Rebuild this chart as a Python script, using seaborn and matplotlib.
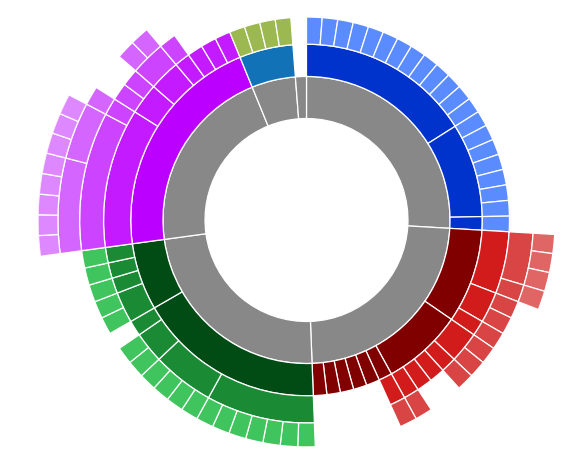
import numpy as np
import matplotlib
matplotlib.use("Agg")
import matplotlib.pyplot as plt
import seaborn as sns

sns.set_theme(style="white")

# Hierarchy: a 1 is a leaf of one unit, a list holds the children of a node.
blue_tree = [
    [1, 1, 1, 1, 1, 1, 1, 1, 1, 1, 1, 1, 1],
    [1, 1, 1, 1, 1, 1, 1],
    [1],
]
red_tree = [
    [[[1, 1, 1], [1]], [1, 1], [1]],
    [[1, 1], [1], 1, 1, [1]],
    [[1]],
    1, 1, 1, 1, 1,
]
green_tree = [
    [[1, 1, 1, 1, 1, 1, 1], [1, 1, 1, 1], [1, 1], 1],
    [[1, 1], [1], [1], [1]],
]
magenta_tree = [
    [
        [[[1, 1, 1, 1, 1], [1, 1, 1]], [1]],
        [1, 1],
        [[1, 1]],
        [1],
        1, 1, 1,
    ],
]
teal_tree = [[1, 1, 1, 1]]
gray_leaf = 1

groups = [blue_tree, red_tree, green_tree, magenta_tree, teal_tree, gray_leaf]

# colours by depth (depth 1 is always grey)
group_palettes = [
    ["#0033cc", "#5b8cff"],
    ["#800000", "#d21c1c", "#d94444", "#e06666"],
    ["#004c14", "#1a8a35", "#40c45e"],
    ["#bb00ff", "#c41aff", "#cc44ff", "#d466ff", "#dd88ff"],
    ["#1172b8", "#9cb850"],
    [],
]
ring_gray = "#888888"
levels = 7          # root + 6 visible rings
outer_r = 268.5     # pixels


def size(node):
    if isinstance(node, list):
        return sum(size(c) for c in node)
    return 1


arcs = []  # (start, span, depth, colour)


def walk(node, depth, start, palette):
    span = size(node)
    color = ring_gray if depth == 1 else palette[depth - 2]
    arcs.append((start, span, depth, color))
    if isinstance(node, list):
        pos = start
        for child in node:
            walk(child, depth + 1, pos, palette)
            pos += size(child)


pos = 0
for tree, pal in zip(groups, group_palettes):
    walk(tree, 1, pos, pal)
    pos += size(tree)

total = pos
unit = 2 * np.pi / total


def radius(d):
    return outer_r * np.sqrt(d / levels)


W, H = 586, 458
cx, cy = 306.5, 220
fig = plt.figure(figsize=(W / 100, H / 100), dpi=100)
ax = fig.add_axes([(cx - outer_r) / W, (H - cy - outer_r) / H, 2 * outer_r / W, 2 * outer_r / H],
                  projection="polar")
ax.set_theta_zero_location("N")
ax.set_theta_direction(-1)

for start, span, depth, color in arcs:
    r0, r1 = radius(depth), radius(depth + 1)
    ax.bar((start + span / 2) * unit, r1 - r0, width=span * unit, bottom=r0,
           color=color, edgecolor="white", linewidth=0.9, align="center")

ax.set_ylim(0, outer_r)
ax.set_axis_off()
fig.savefig("out.png", dpi=100, facecolor="white")
